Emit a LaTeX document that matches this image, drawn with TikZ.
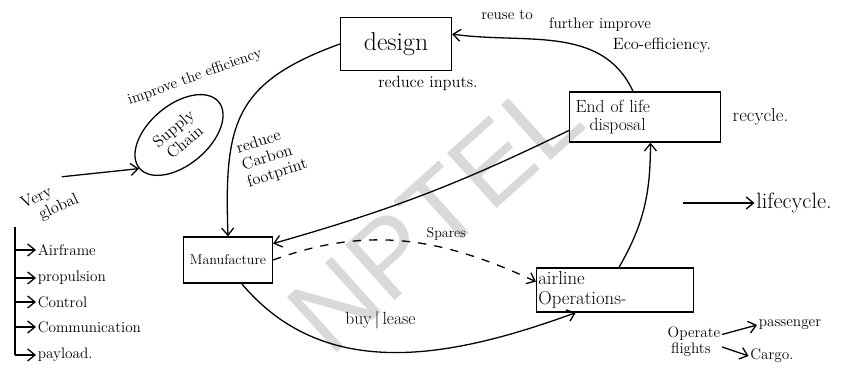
\documentclass[tikz,border=0pt]{standalone}
\usepackage{fontspec}
\newfontfamily\wmfont{Liberation Sans}
\usepackage{tikz}
\usetikzlibrary{arrows.meta,positioning,shapes.geometric,calc}

\begin{document}
\begin{tikzpicture}[x=0.03cm, y=0.03cm, line width=1.1pt, font=\fontsize{13}{14}\selectfont]
\tikzstyle{box}=[draw, align=left, inner sep=3pt]
\tikzstyle{note}=[align=left, inner sep=1pt]
\tikzstyle{arr}=[-{Straight Barb[length=2.2mm,width=3.6mm]}]
\tikzstyle{spare}=[arr, dash pattern=on 7pt off 7pt]
\useasboundingbox (0,0) rectangle (853,375);

% watermark
\node[text=black!15, font=\wmfont\fontsize{92}{92}\selectfont, rotate=42] (wm) at (435,160) {NPTEL};

% the lifecycle stages
\node[box, align=center, minimum width=3.33cm, minimum height=1.6cm, font=\fontsize{22}{24}\selectfont] (design) at (396,331) {design};
\node[box, text width=4.3cm, minimum height=1.5cm, font=\fontsize{15}{16}\selectfont] (eol) at (645,258) {\hspace*{2pt}End of life\\\hspace*{14pt}disposal};
\node[box, text width=4.6cm, inner xsep=1.5pt, minimum height=1.32cm, font=\fontsize{16}{17}\selectfont] (airline) at (615,85) {airline\\Operations-};
\node[box, align=center, minimum width=2.67cm, minimum height=1.38cm, font=\fontsize{12}{13}\selectfont] (manuf) at (228,115) {Manufacture};
\node[draw, ellipse, rotate=40, minimum width=3.1cm, minimum height=1.8cm, align=center, font=\fontsize{14}{15}\selectfont] (supply) at (179,240) {Supply\\Chain};

% notes
\node[note, font=\fontsize{14}{15}\selectfont] (inputs) at (428,292) {reduce inputs.};
\node[note] (reuse) at (507,360) {reuse to};
\node[note] (further) at (600,350) {further improve};
\node[note, font=\fontsize{14}{15}\selectfont] (eco) at (662,330) {Eco-efficiency.};
\node[note, font=\fontsize{16}{17}\selectfont, right=3mm of eol] (recycle) {recycle.};
\node[note, rotate=20] (effic) at (195,298) {improve the efficiency};
\node[note, rotate=18, font=\fontsize{14}{15}\selectfont] (carbon) at (272,218) {reduce\\Carbon\\footprint};
\node[note, rotate=25, font=\fontsize{14}{15}\selectfont] (global) at (50,173) {Very\\\hspace*{10pt}global};
\node[note, font=\fontsize{19}{20}\selectfont] (life) at (794,172) {lifecycle.};
\coordinate (lifestart) at (683,172);
\node[note] (operate) at (694,33) {Operate\\\hspace*{3pt}flights};
\node[note] (pass) at (790,50) {passenger};
\node[note] (cargo) at (772,19) {Cargo.};

% the subsystems
\coordinate (listtop) at (15,148);
\node[note, anchor=west] (airframe) at (36,125) {Airframe};
\node[note, anchor=west] (prop) at (36,97) {propulsion};
\node[note, anchor=west] (control) at (36,73) {Control};
\node[note, anchor=west] (comm) at (36,48) {Communication};
\node[note, anchor=west] (payload) at (36,20) {payload.};

% connectors
\draw[arr] (eol.115) to[out=115, in=-8] (design.10);
\draw[arr] (design.west) to[out=200, in=92, looseness=1.3] (manuf.north);
\draw[arr] (airline.80) to[out=60, in=-90] (eol.-78);
\draw[arr] (eol.190) to[bend left=5] (manuf.20);
\draw[spare] (manuf.east) to[out=20, in=155] node[pos=0.66, above=3pt, font=\fontsize{12}{13}\selectfont] (spares) {Spares} (airline.174);
\draw[arr] (manuf.-60) to[out=-50, in=-160] node[pos=0.46, above=16pt, font=\fontsize{15}{16}\selectfont] (buy) {buy\,|\,lease} (airline.-150);
\draw[arr] (global.40) -- (supply.west);
\draw[arr] (lifestart) -- (life.west);
\draw[arr] (operate.15) -- (pass.west);
\draw[arr] (operate.-10) -- (cargo.west);
\draw (listtop) -- (listtop |- payload.west);
\foreach \item in {airframe, prop, control, comm, payload}
  \draw[arr] (listtop |- \item.west) -- (\item.west);
\end{tikzpicture}
\end{document}
